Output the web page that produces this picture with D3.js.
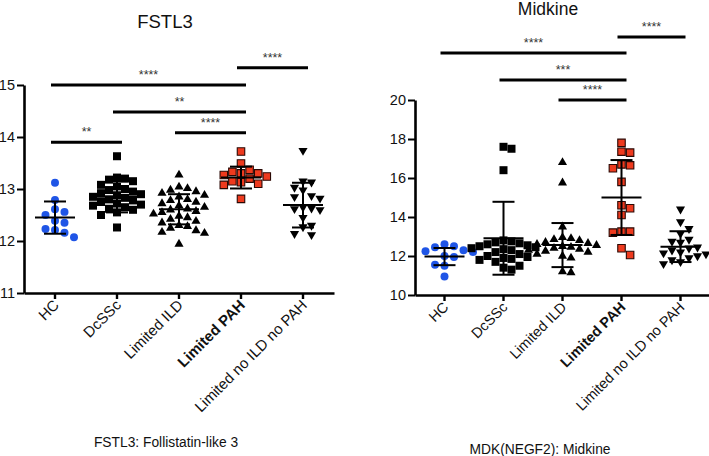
<!DOCTYPE html>
<html>
<head>
<meta charset="utf-8">
<script src="https://cdn.jsdelivr.net/npm/d3@7"></script>
<style>
  html, body { margin: 0; padding: 0; background: #fff; }
  svg { display: block; }
  text { font-family: "Liberation Sans", Arial, sans-serif; }
</style>
</head>
<body>
<svg id="chart" width="709" height="456"></svg>
<script>
// ---------- DATA ----------
const categories = ["HC", "DcSSc", "Limited ILD", "Limited PAH", "Limited no ILD no PAH"];

// FSTL3 panel
const fstl3HC = [13.12, 12.79, 12.61, 12.56, 12.50, 12.39, 12.35, 12.21, 12.23, 12.16, 12.07];
const fstl3DcSSc = [13.63, 13.22, 13.2, 13.18, 13.15, 13.08, 13.05, 13.0, 12.98, 12.95, 12.92, 12.9, 12.88, 12.85, 12.83, 12.8, 12.78, 12.75, 12.72, 12.7, 12.68, 12.65, 12.62, 12.6, 12.55, 12.5, 12.26];
const fstl3ILD = [13.27, 13.04, 13.01, 12.98, 12.95, 12.92, 12.88, 12.85, 12.8, 12.78, 12.75, 12.72, 12.68, 12.65, 12.62, 12.6, 12.57, 12.55, 12.52, 12.48, 12.45, 12.42, 12.38, 12.35, 12.3, 12.28, 12.25, 12.2, 12.17, 12.15, 11.94];
const fstl3PAH = [13.72, 13.49, 13.37, 13.33, 13.30, 13.30, 13.27, 13.24, 13.2, 13.15, 13.13, 13.10, 13.08, 12.81];
const fstl3NoILD = [13.74, 13.15, 13.13, 13.03, 12.98, 12.87, 12.85, 12.82, 12.65, 12.63, 12.6, 12.62, 12.45, 12.3, 12.27, 12.14, 12.12];
const fstl3Mean = [12.45, 12.85, 12.61, 13.22, 12.69];
const fstl3SD = [0.31, 0.30, 0.29, 0.21, 0.43];
const fstl3Ticks = [11, 12, 13, 14, 15];
// comparisons: [groupA, groupB, label, level (y value)]
const fstl3Sig = [
  ["Limited PAH", "Limited no ILD no PAH", "****", 15.33],
  ["HC", "Limited PAH", "****", 15.0],
  ["DcSSc", "Limited PAH", "**", 14.48],
  ["Limited ILD", "Limited PAH", "****", 14.08],
  ["HC", "DcSSc", "**", 13.9]
];

// Midkine panel
const mdkHC = [12.6, 12.5, 12.45, 12.3, 12.25, 12.2, 12.0, 11.95, 11.55, 11.5, 10.95];
const mdkDcSSc = [17.6, 17.5, 16.4, 12.8, 12.75, 12.7, 12.65, 12.6, 12.55, 12.5, 12.45, 12.4, 12.35, 12.3, 12.2, 12.1, 12.0, 11.95, 11.9, 11.85, 11.8, 11.7, 11.5, 11.4, 11.3];
const mdkILD = [16.8, 15.75, 13.5, 12.95, 12.9, 12.85, 12.8, 12.7, 12.65, 12.6, 12.55, 12.5, 12.45, 12.4, 12.35, 12.3, 12.25, 12.2, 12.1, 12.0, 11.9, 11.2, 11.15];
const mdkPAH = [17.8, 17.35, 17.3, 16.7, 16.65, 16.5, 15.8, 14.6, 14.45, 14.1, 13.25, 13.2, 13.25, 12.4, 12.05];
const mdkNoILD = [14.4, 13.75, 13.4, 13.15, 12.85, 12.75, 12.7, 12.45, 12.4, 12.3, 12.2, 12.15, 12.1, 12.0, 11.9, 11.8, 11.7, 11.6];
const mdkMean = [11.97, 12.91, 12.56, 15.0, 12.48];
const mdkSD = [0.44, 1.87, 1.13, 1.92, 0.79];
const mdkTicks = [10, 12, 14, 16, 18, 20];
const mdkSig = [
  ["Limited PAH", "Limited no ILD no PAH", "****", 23.23],
  ["HC", "Limited PAH", "****", 22.41],
  ["DcSSc", "Limited PAH", "***", 21.03],
  ["Limited ILD", "Limited PAH", "****", 20.0]
];

const titles = ["FSTL3", "Midkine"];
const captions = ["FSTL3: Follistatin-like 3", "MDK(NEGF2): Midkine"];

// ---------- STYLE ----------
const markerStyle = [
  { type: d3.symbolCircle, size: 50, fill: "#1f55e6", stroke: "none", rot: 0, w: 9.5 },
  { type: d3.symbolSquare, size: 64, fill: "#000", stroke: "none", rot: 0, w: 8 },
  { type: d3.symbolTriangle, size: 36, fill: "#000", stroke: "none", rot: 0, w: 8.5 },
  { type: d3.symbolSquare, size: 56, fill: "#ee3a1e", stroke: "#2a0804", rot: 0, w: 8.6 },
  { type: d3.symbolTriangle, size: 36, fill: "#000", stroke: "none", rot: 180, w: 8.5 }
];

const svg = d3.select("#chart");

function swarm(vals, y, w) {
  const order = vals.map((v, i) => i).sort((a, b) => vals[b] - vals[a]);
  const placed = [];
  const out = new Array(vals.length);
  order.forEach(i => {
    const py = y(vals[i]);
    let k = 0, dx = 0;
    while (true) {
      dx = k === 0 ? 0 : (k % 2 === 1 ? 1 : -1) * Math.ceil(k / 2) * w;
      const hit = placed.some(p => Math.abs(p.x - dx) < w * 0.98 && Math.abs(p.y - py) < w * 0.98);
      if (!hit) break;
      k++;
    }
    placed.push({ x: dx, y: py });
    out[i] = { v: vals[i], dx: dx, py: py };
  });
  return out;
}

function panel(cfg) {
  const g = svg.append("g");
  const x = d3.scaleBand().domain(categories).range(cfg.xr);
  const cx = c => x(c) + x.bandwidth() / 2;
  const y = d3.scaleLinear().domain(cfg.ydom).range(cfg.yr);

  // title
  g.append("text").attr("x", cfg.titleX).attr("y", cfg.titleY)
    .attr("text-anchor", "middle").attr("font-size", cfg.titleSize).attr("fill", "#111")
    .text(cfg.title);

  // y axis
  const ya = g.append("g").attr("transform", `translate(${cfg.xr[0]},0)`)
    .call(d3.axisLeft(y).tickValues(cfg.ticks).tickFormat(d3.format("d"))
      .tickSize(7).tickSizeOuter(0).tickPadding(2));
  ya.select(".domain").attr("stroke-width", 2.6).attr("stroke", "#000");
  ya.selectAll(".tick line").attr("stroke-width", 2).attr("stroke", "#000");
  ya.selectAll(".tick text").attr("font-size", 14.5).attr("fill", "#111")
    .attr("font-family", "'Liberation Sans', Arial, sans-serif");

  // x axis
  const xa = g.append("g").attr("transform", `translate(0,${cfg.yr[0]})`)
    .call(d3.axisBottom(x).tickSize(6).tickSizeOuter(0).tickPadding(0));
  xa.select(".domain").attr("stroke-width", 2.6).attr("stroke", "#000");
  xa.selectAll(".tick line").attr("stroke-width", 2.4).attr("stroke", "#000");
  xa.selectAll(".tick text")
    .attr("font-size", cfg.labelSize).attr("fill", "#111")
    .attr("font-family", "'Liberation Sans', Arial, sans-serif")
    .attr("font-weight", d => d === "Limited PAH" ? "bold" : "normal")
    .attr("text-anchor", "end")
    .attr("dy", null)
    .attr("transform", "translate(5,13) rotate(-45)")
    .attr("x", 0).attr("y", 0);

  // points
  cfg.groups.forEach((vals, gi) => {
    const st = markerStyle[gi];
    const pts = swarm(vals, y, st.w);
    const sym = d3.symbol().type(st.type).size(st.size);
    g.append("g").selectAll("path").data(pts).join("path")
      .attr("d", sym)
      .attr("transform", d => `translate(${cx(categories[gi]) + d.dx},${d.py}) rotate(${st.rot})`)
      .attr("fill", st.fill)
      .attr("stroke", st.stroke)
      .attr("stroke-width", st.stroke === "none" ? 0 : 1.1);
  });

  // mean ± SD
  categories.forEach((c, i) => {
    const m = cfg.mean[i], s = cfg.sd[i], xc = cx(c);
    const eg = g.append("g").attr("stroke", "#000").attr("stroke-width", 2);
    eg.append("line").attr("x1", xc - 20).attr("x2", xc + 20).attr("y1", y(m)).attr("y2", y(m));
    eg.append("line").attr("x1", xc).attr("x2", xc).attr("y1", y(m + s)).attr("y2", y(m - s));
    eg.append("line").attr("x1", xc - 11).attr("x2", xc + 11).attr("y1", y(m + s)).attr("y2", y(m + s));
    eg.append("line").attr("x1", xc - 11).attr("x2", xc + 11).attr("y1", y(m - s)).attr("y2", y(m - s));
  });

  // significance bars
  cfg.sig.forEach(([a, b, lab, lev]) => {
    const x1 = cx(a) - 4, x2 = cx(b) + 5, yy = y(lev);
    g.append("line").attr("x1", x1).attr("x2", x2).attr("y1", yy).attr("y2", yy)
      .attr("stroke", "#000").attr("stroke-width", 3);
    g.append("text").attr("x", (x1 + x2) / 2).attr("y", yy - 6)
      .attr("text-anchor", "middle").attr("font-size", 12.5).attr("fill", "#333")
      .text(lab);
  });

  // caption
  g.append("text").attr("x", cfg.capX).attr("y", cfg.capY)
    .attr("text-anchor", "middle").attr("font-size", 13.8)
    .attr("font-family", "Lato, 'Open Sans', sans-serif").attr("fill", "#111")
    .text(cfg.caption);
}

panel({
  xr: [24, 334], ydom: [11, 15], yr: [293, 85], ticks: fstl3Ticks,
  groups: [fstl3HC, fstl3DcSSc, fstl3ILD, fstl3PAH, fstl3NoILD],
  mean: fstl3Mean, sd: fstl3SD, sig: fstl3Sig,
  title: titles[0], titleX: 165, titleY: 28, titleSize: 18.5,
  caption: captions[0], capX: 166, capY: 447, labelSize: 15
});

panel({
  xr: [415, 710], ydom: [10, 20], yr: [295, 100], ticks: mdkTicks,
  groups: [mdkHC, mdkDcSSc, mdkILD, mdkPAH, mdkNoILD],
  mean: mdkMean, sd: mdkSD, sig: mdkSig,
  title: titles[1], titleX: 548, titleY: 15, titleSize: 17.5,
  caption: captions[1], capX: 540, capY: 454, labelSize: 14.5
});
</script>
</body>
</html>
